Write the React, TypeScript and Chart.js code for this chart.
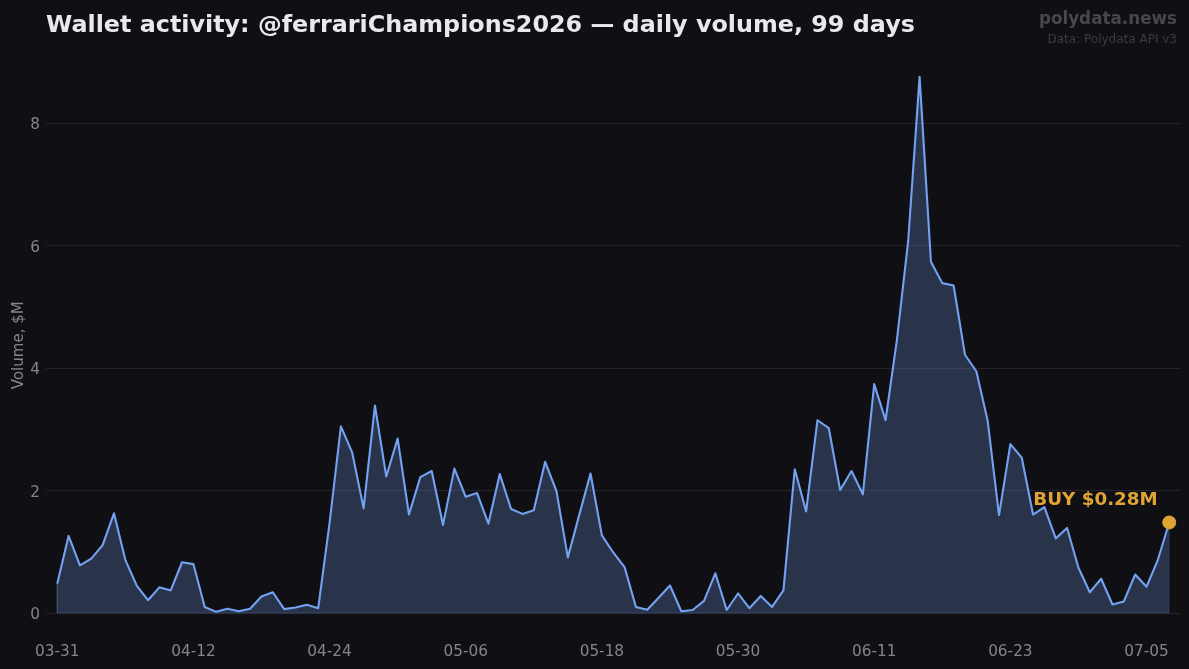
import { useEffect, useRef } from 'react'
import { Chart, registerables } from 'chart.js'
Chart.register(...registerables)

const FONT = '"DejaVu Sans", sans-serif'
const BG = '#0f0f14'

const VOLUME = [
    0.48, 1.26, 0.78, 0.89, 1.11, 1.63, 0.87, 0.45, 0.21, 0.42,
    0.37, 0.83, 0.80, 0.10, 0.02, 0.07, 0.03, 0.07, 0.27, 0.34,
    0.065, 0.09, 0.135, 0.08, 1.47, 3.05, 2.62, 1.71, 3.39, 2.23,
    2.85, 1.61, 2.22, 2.32, 1.44, 2.36, 1.90, 1.96, 1.46, 2.27,
    1.70, 1.62, 1.68, 2.47, 1.99, 0.91, 1.60, 2.28, 1.27, 0.99,
    0.75, 0.10, 0.054, 0.25, 0.45, 0.03, 0.05, 0.20, 0.65, 0.05,
    0.32, 0.08, 0.28, 0.10, 0.37, 2.35, 1.66, 3.15, 3.02, 2.01,
    2.32, 1.94, 3.74, 3.15, 4.46, 6.09, 8.76, 5.74, 5.39, 5.35,
    4.22, 3.95, 3.14, 1.60, 2.76, 2.54, 1.61, 1.73, 1.22, 1.39,
    0.74, 0.34, 0.56, 0.14, 0.19, 0.63, 0.43, 0.87, 1.48,
]
const TICK_DAYS = [0, 12, 24, 36, 48, 60, 72, 84, 96]
const TICK_LABELS = ['03-31', '04-12', '04-24', '05-06', '05-18', '05-30', '06-11', '06-23', '07-05']
const Y_TICKS = [0, 2, 4, 6, 8]
const BUY_LABEL = 'BUY $0.28M'

const lastDay = VOLUME.length - 1

const buyLabelPlugin = {
    id: 'buyLabel',
    afterDatasetsDraw(chart: Chart) {
        const { ctx, scales } = chart
        const x = scales.x.getPixelForValue(lastDay)
        const y = scales.y.getPixelForValue(VOLUME[lastDay])
        ctx.save()
        ctx.font = `bold 18.3px ${FONT}`
        ctx.fillStyle = '#e0a435'
        ctx.textAlign = 'right'
        ctx.textBaseline = 'middle'
        ctx.fillText(BUY_LABEL, x - 11.5, y - 22)
        ctx.restore()
    },
}

export default function App() {
    const canvasRef = useRef<HTMLCanvasElement>(null)

    useEffect(() => {
        document.body.style.margin = '0'
        document.body.style.background = BG
        if (!canvasRef.current) return
        const chart = new Chart(canvasRef.current, {
            type: 'line',
            plugins: [buyLabelPlugin],
            data: {
                datasets: [
                    {
                        // outline of the filled area, slightly lighter than the fill
                        data: [
                            { x: 0, y: VOLUME[0] }, { x: 0, y: 0 },
                            { x: lastDay, y: 0 }, { x: lastDay, y: VOLUME[lastDay] },
                        ],
                        borderColor: 'rgba(120,160,235,0.2)', borderWidth: 1,
                        pointRadius: 0, fill: false, order: 2,
                    },
                    {
                        data: VOLUME.map((v, i) => ({ x: i, y: v })),
                        borderColor: '#74a2f2', borderWidth: 2.1, borderJoinStyle: 'round',
                        backgroundColor: 'rgba(120,160,235,0.25)',
                        fill: 'origin', tension: 0, pointRadius: 0, order: 1,
                    },
                    {
                        data: [{ x: lastDay, y: VOLUME[lastDay] }],
                        backgroundColor: '#e0a435', borderColor: '#e0a435',
                        pointRadius: 6.5, showLine: false, order: 0,
                    },
                ],
            },
            options: {
                responsive: false,
                animation: false,
                layout: { padding: { left: 0, right: 9, top: 50.5, bottom: 0 } },
                plugins: { legend: { display: false }, tooltip: { enabled: false } },
                scales: {
                    x: {
                        type: 'linear', min: -0.99, max: 98.95,
                        afterFit: s => { s.height = 29 },
                        afterBuildTicks: s => { s.ticks = TICK_DAYS.map(value => ({ value })) },
                        grid: { display: false, drawTicks: false }, border: { display: false },
                        ticks: {
                            color: '#85858c', font: { family: FONT, size: 15.3 }, padding: 3,
                            maxRotation: 0, autoSkip: false,
                            callback: v => TICK_LABELS[TICK_DAYS.indexOf(Number(v))],
                        },
                    },
                    y: {
                        type: 'linear', min: -0.44, max: 9.19,
                        afterFit: s => { s.width = 46 },
                        afterBuildTicks: s => { s.ticks = Y_TICKS.map(value => ({ value })) },
                        grid: { color: '#23232a', lineWidth: 1, drawTicks: false },
                        border: { display: false },
                        ticks: { color: '#85858c', font: { family: FONT, size: 15.3 }, padding: 6, labelOffset: 2 },
                        title: {
                            display: true, text: 'Volume, $M', color: '#85858c',
                            font: { family: FONT, size: 15 }, padding: { top: 10, bottom: 0 },
                        },
                    },
                },
            },
        })
        return () => chart.destroy()
    }, [])

    return (
        <div style={{ position: 'relative', width: 1189, height: 669, background: BG, overflow: 'hidden', fontFamily: FONT }}>
            <canvas ref={canvasRef} width={1189} height={669} style={{ display: 'block' }} />
            <div style={{ position: 'absolute', left: 46, top: 9, color: '#e8e8ef', fontSize: 23.83, fontWeight: 700, lineHeight: '30px', whiteSpace: 'nowrap' }}>
                Wallet activity: @ferrariChampions2026 — daily volume, 99 days
            </div>
            <div style={{ position: 'absolute', right: 12, top: 8, color: '#47474d', fontSize: 16.8, fontWeight: 700, lineHeight: '20px', whiteSpace: 'nowrap' }}>
                polydata.news
            </div>
            <div style={{ position: 'absolute', right: 12, top: 31, color: '#3b3b41', fontSize: 12, lineHeight: '16px', whiteSpace: 'nowrap' }}>
                Data: Polydata API v3
            </div>
        </div>
    )
}
